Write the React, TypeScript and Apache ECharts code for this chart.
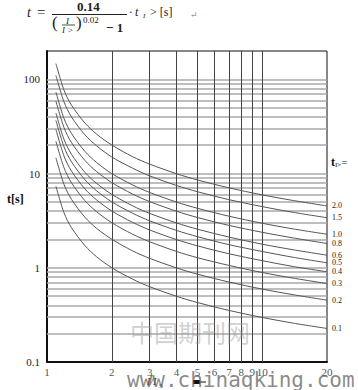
import React, { useEffect, useRef } from "react";
import * as echarts from "echarts";

// I / I> values where each curve was read
const currentRatios = [1.1, 1.2, 1.3, 1.5, 1.7, 2, 2.5, 3, 4, 5, 7, 10, 14, 20];

// trip time t [s] for each time-multiplier setting tI>
const t01 = [7.34, 3.83, 2.66, 1.72, 1.31, 1.0, 0.757, 0.63, 0.498, 0.428, 0.353, 0.297, 0.258, 0.227];
const t02 = [14.7, 7.66, 5.32, 3.44, 2.62, 2.01, 1.51, 1.26, 0.996, 0.856, 0.706, 0.594, 0.517, 0.453];
const t03 = [22.0, 11.5, 7.98, 5.16, 3.94, 3.01, 2.27, 1.89, 1.49, 1.28, 1.06, 0.891, 0.775, 0.68];
const t04 = [29.4, 15.3, 10.6, 6.88, 5.25, 4.01, 3.03, 2.52, 1.99, 1.71, 1.41, 1.19, 1.03, 0.907];
const t05 = [36.7, 19.2, 13.3, 8.6, 6.56, 5.01, 3.79, 3.15, 2.49, 2.14, 1.76, 1.49, 1.29, 1.13];
const t06 = [44.0, 23.0, 16.0, 10.3, 7.87, 6.02, 4.54, 3.78, 2.99, 2.57, 2.12, 1.78, 1.55, 1.36];
const t08 = [58.7, 30.7, 21.3, 13.8, 10.5, 8.02, 6.06, 5.04, 3.98, 3.42, 2.82, 2.38, 2.07, 1.81];
const t10 = [73.4, 38.3, 26.6, 17.2, 13.1, 10.0, 7.57, 6.3, 4.98, 4.28, 3.53, 2.97, 2.58, 2.27];
const t15 = [110, 57.5, 39.9, 25.8, 19.7, 15.0, 11.4, 9.45, 7.47, 6.42, 5.29, 4.46, 3.87, 3.4];
const t20 = [147, 76.6, 53.2, 34.4, 26.2, 20.1, 15.1, 12.6, 9.96, 8.56, 7.06, 5.94, 5.17, 4.53];

const curveNames = ["0.1", "0.2", "0.3", "0.4", "0.5", "0.6", "0.8", "1.0", "1.5", "2.0"];
const curveValues = [t01, t02, t03, t04, t05, t06, t08, t10, t15, t20];

// grid and tick values
const xGridValues = [2, 3, 4, 5, 6, 7, 8, 9, 10];
const xTickLabels = [1, 2, 3, 4, 5, 6, 7, 8, 9, 10, 20];
const yGridValues = [
  0.2, 0.3, 0.4, 0.5, 0.6, 0.7, 0.8, 0.9,
  1, 2, 3, 4, 5, 6, 7, 8, 9,
  10, 20, 30, 40, 50, 60, 70, 80, 90, 100,
];
const yTickLabels = ["0.1", "1", "10", "100"];

const SERIF = "'Liberation Serif', 'DejaVu Serif', serif";

export default function App() {
  const ref = useRef<HTMLDivElement>(null);

  useEffect(() => {
    if (!ref.current) return;
    const chart = echarts.init(ref.current, null, { renderer: "svg" });

    const curveSeries = curveNames.map((name, k) => ({
      name,
      type: "line",
      data: currentRatios.map((x, i) => [x, curveValues[k][i]]),
      smooth: 0.3,
      showSymbol: false,
      symbol: "none",
      z: 5,
      lineStyle: { color: "#555", width: 1 },
      endLabel: {
        show: true,
        formatter: name,
        fontFamily: SERIF,
        fontSize: 8,
        color: "#222",
        distance: 5,
      },
    }));

    const option: any = {
      animation: false,
      backgroundColor: "#fff",
      grid: {
        left: 47,
        right: 31,
        top: 51,
        bottom: 28,
        show: true,
        borderColor: "#111",
        borderWidth: 1,
        backgroundColor: "transparent",
      },
      xAxis: {
        type: "log",
        logBase: 10,
        min: 1,
        max: 20,
        axisLine: { show: true, lineStyle: { color: "#111", width: 2 } },
        axisTick: { show: false },
        axisLabel: { show: false },
        splitLine: { show: false },
      },
      yAxis: {
        type: "log",
        logBase: 10,
        min: 0.1,
        max: 200,
        axisLine: { show: true, lineStyle: { color: "#111", width: 2 } },
        axisTick: { show: false },
        splitLine: { show: false },
        axisLabel: {
          fontFamily: SERIF,
          fontSize: 11,
          color: "#222",
          margin: 7,
          formatter: (v: number) => {
            const hit = yTickLabels.find((s) => Math.abs(parseFloat(s) - v) / v < 1e-6);
            return hit ?? "";
          },
        },
      },
      series: [
        {
          name: "hgrid",
          type: "line",
          data: [],
          z: 1,
          markLine: {
            silent: true,
            symbol: "none",
            label: { show: false },
            lineStyle: { color: "#a8a8a8", width: 1.6, type: "solid" },
            data: yGridValues.map((v) => ({ yAxis: v })),
          },
        },
        {
          name: "vgrid",
          type: "line",
          data: [],
          z: 2,
          markLine: {
            silent: true,
            symbol: "none",
            label: { show: false },
            lineStyle: { color: "#444", width: 1, type: "solid" },
            data: xGridValues.map((v) => ({ xAxis: v })),
          },
        },
        {
          name: "xticks",
          type: "scatter",
          clip: false,
          symbolSize: 0,
          silent: true,
          data: xTickLabels.map((v) => [v, 0.1]),
          label: {
            show: true,
            position: "bottom",
            distance: 4,
            fontFamily: SERIF,
            fontSize: 11,
            color: "#222",
            formatter: (p: any) => String(p.value[0]),
          },
        },
        ...curveSeries,
      ],
      graphic: [
        // formula
        { type: "text", left: 27, top: 5, style: { text: "t", font: `italic 14px ${SERIF}`, fill: "#222" } },
        { type: "text", left: 37, top: 4, style: { text: "=", font: `15px ${SERIF}`, fill: "#222" } },
        { type: "text", left: 77, top: 0, style: { text: "0.14", font: `bold 13px ${SERIF}`, fill: "#222" } },
        { type: "line", shape: { x1: 52, y1: 14.5, x2: 127, y2: 14.5 }, style: { stroke: "#222", lineWidth: 1 } },
        { type: "text", left: 52, top: 14, style: { text: "(", font: `17px ${SERIF}`, fill: "#222" } },
        { type: "text", left: 66, top: 16, style: { text: "I", font: `italic 9px ${SERIF}`, fill: "#222" } },
        { type: "line", shape: { x1: 62, y1: 25, x2: 75, y2: 25 }, style: { stroke: "#222", lineWidth: 0.8 } },
        { type: "text", left: 62, top: 25, style: { text: "I >", font: `italic 9px ${SERIF}`, fill: "#222" } },
        { type: "text", left: 76, top: 14, style: { text: ")", font: `17px ${SERIF}`, fill: "#222" } },
        { type: "text", left: 83, top: 15, style: { text: "0.02", font: `9px ${SERIF}`, fill: "#222" } },
        { type: "text", left: 106, top: 21, style: { text: "− 1", font: `bold 13px ${SERIF}`, fill: "#222" } },
        { type: "text", left: 129, top: 6, style: { text: "· t", font: `italic 12px ${SERIF}`, fill: "#222" } },
        { type: "text", left: 143, top: 12, style: { text: "I", font: `italic 7px ${SERIF}`, fill: "#222" } },
        { type: "text", left: 150, top: 6, style: { text: "> [s]", font: `12px ${SERIF}`, fill: "#222" } },
        { type: "text", left: 190, top: 10, style: { text: "↵", font: `9px ${SERIF}`, fill: "#999" } },
        // axis titles
        { type: "text", left: 7, top: 193, style: { text: "t[s]", font: `bold 12px ${SERIF}`, fill: "#111" } },
        {
          type: "text",
          left: 331,
          top: 156,
          style: {
            text: "{t|t}{s|I>}{e|=}",
            rich: {
              t: { font: `bold 12px ${SERIF}`, fill: "#111" },
              s: { font: `7px ${SERIF}`, fill: "#111", padding: [6, 0, 0, 0] },
              e: { font: `11px ${SERIF}`, fill: "#111" },
            },
          },
        },
        // watermark
        {
          type: "text",
          left: 130,
          top: 319,
          z: 50,
          style: { text: "中国期刊网", font: `24px 'Noto Sans CJK SC'`, fill: "rgba(150,150,150,0.45)" },
        },
        {
          type: "text",
          left: 147,
          top: 376,
          style: { text: "I/I", font: `italic 10px ${SERIF}`, fill: "#222" },
        },
        {
          type: "text",
          left: 159,
          top: 382,
          style: { text: "S", font: `7px ${SERIF}`, fill: "#222" },
        },
        {
          type: "text",
          left: 127,
          top: 369,
          z: 50,
          style: { text: "www.chinaqking.com", font: `21px 'DejaVu Sans Mono'`, fill: "rgba(100,100,100,0.75)" },
        },
        { type: "rect", shape: { x: 193, y: 380, width: 7, height: 4 }, style: { fill: "#111" } },
        { type: "line", shape: { x1: 200, y1: 382, x2: 206, y2: 382 }, style: { stroke: "#111", lineWidth: 1 } },
      ],
    };

    chart.setOption(option);
    return () => chart.dispose();
  }, []);

  return (
    <div
      ref={ref}
      style={{ width: 358, height: 390, position: "absolute", left: 0, top: 0, background: "#fff" }}
    />
  );
}
